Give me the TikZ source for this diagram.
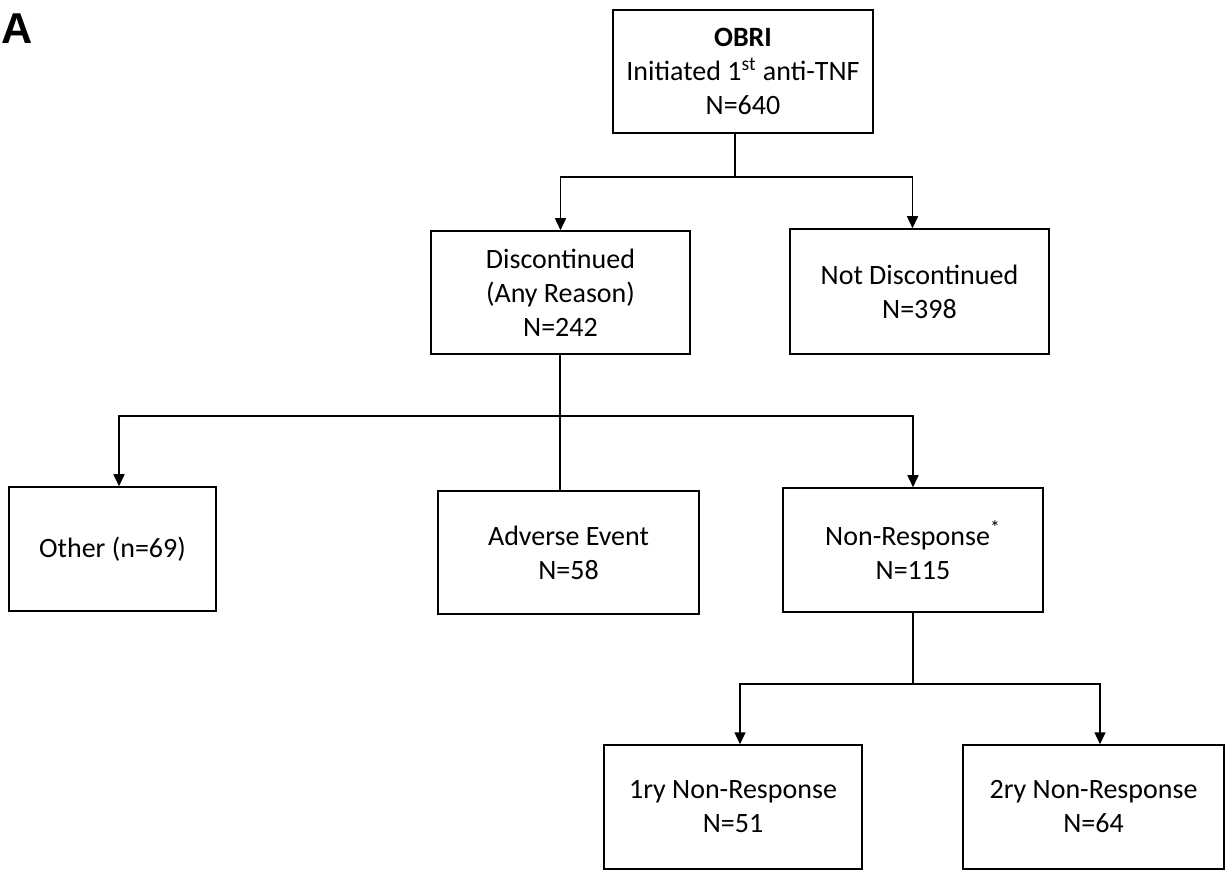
\documentclass[tikz,border=0pt]{standalone}
\usepackage{fontspec}
\setmainfont{Carlito}
\newfontfamily\panelfont{Liberation Sans}
\usetikzlibrary{arrows.meta}

\begin{document}
\begin{tikzpicture}[x=0.5pt,y=-0.5pt,
        box/.style={draw, line width=0.75pt, align=center, inner sep=0pt,
                font=\fontsize{14}{17}\selectfont},
        arr/.style={-{Triangle[length=6pt,width=5.5pt]}, line width=0.75pt},
        link/.style={line width=0.75pt}]
        \useasboundingbox (0,0) rectangle (1230,870);

        \node[font=\panelfont\bfseries\fontsize{21.6}{22}\selectfont] (panel) at (17.5,29) {A};

        \node[box, minimum width=130pt, minimum height=61.5pt] (obri) at (743,71.5)
                {\textbf{OBRI}\\Initiated 1\textsuperscript{st} anti-TNF\\N=640};
        \node[box, minimum width=129.5pt, minimum height=61.5pt] (disc) at (560.5,292.5)
                {Discontinued\\(Any Reason)\\N=242};
        \node[box, minimum width=129.5pt, minimum height=62.5pt] (notdisc) at (919.5,291.5)
                {Not Discontinued\\N=398};
        \node[box, minimum width=103.5pt, minimum height=62pt] (other) at (112.5,549)
                {Other (n=69)};
        \node[box, minimum width=130.5pt, minimum height=61.5pt] (adverse) at (568.5,552.5)
                {Adverse Event\\N=58};
        \node[box, minimum width=130pt, minimum height=62pt] (nonresp) at (913,550)
                {Non-Response\textsuperscript{*}\\N=115};
        \node[box, minimum width=129pt, minimum height=62pt] (prim) at (733,807)
                {1ry Non-Response\\N=51};
        \node[box, minimum width=130.5pt, minimum height=62pt] (sec) at (1093.5,807)
                {2ry Non-Response\\N=64};

        \coordinate (split1) at (735,177); % below OBRI
        \coordinate (split2) at (560,416); % below Discontinued
        \coordinate (split3) at (913,684); % below Non-Response

        \draw[link] (obri.south -| split1) -- (split1);
        \draw[arr] (split1) -| (disc.north);
        \draw[arr] (split1) -| ([xshift=-3.5pt]notdisc.north);

        \draw[link] (disc.south -| split2) -- (split2);
        \draw[arr] (split2) -| ([xshift=3.25pt]other.north);
        \draw[link] (split2) -- (split2 |- adverse.north);
        \draw[arr] (split2) -| (nonresp.north);

        \draw[link] (nonresp.south) -- (split3);
        \draw[arr] (split3) -| ([xshift=3.5pt]prim.north);
        \draw[arr] (split3) -| ([xshift=3.25pt]sec.north);

\end{tikzpicture}
\end{document}
